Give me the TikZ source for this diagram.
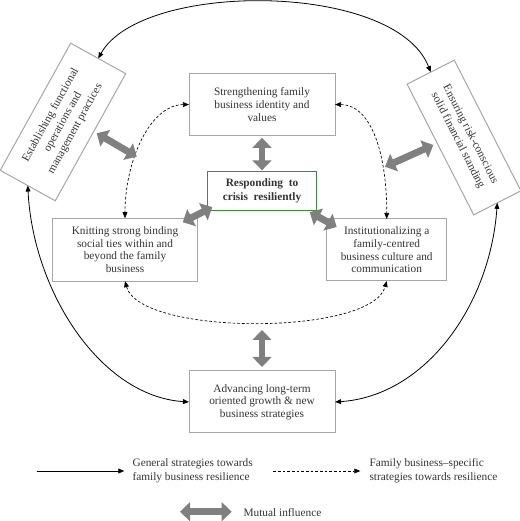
\documentclass[tikz,border=0pt]{standalone}
\usepackage{fontspec}
\setmainfont{Liberation Serif}
\usetikzlibrary{arrows.meta,calc}
\definecolor{boxgray}{HTML}{A6A6A6}
\definecolor{crisisgreen}{HTML}{3C8C3C}
\definecolor{mutualgray}{HTML}{808080}
\begin{document}
\begin{tikzpicture}[x=0.75pt,y=0.75pt,>={Triangle[length=4.5pt,width=3.6pt]},
    mutual/.style={line width=5.2pt,mutualgray,arrows={Triangle[length=7.5pt,width=14pt]-Triangle[length=7.5pt,width=14pt]}},
    legend/.style={anchor=west,inner sep=0pt,align=left,text=black!80,font=\fontsize{8.5}{10.5}\selectfont}]
            \useasboundingbox (0,0) rectangle (520,521);
            \begin{scope}[every node/.style={rectangle,draw=boxgray,line width=0.75pt,inner sep=0pt,outer sep=0pt,align=center,text=black!80,font=\fontsize{8.5}{9.5}\selectfont}]
                \node[minimum width=109.5pt,minimum height=46.9pt] (top) at (262,416.5) {Strengthening family\\business identity and\\values};
                \node[draw=crisisgreen,minimum width=82.1pt,minimum height=28.7pt,font=\fontsize{8.5}{10.5}\selectfont\bfseries] (resp) at (262,330) {Responding\ \ to\\crisis\ \ resiliently};
                \node[minimum width=109.1pt,minimum height=47.2pt] (knit) at (125,271.3) {Knitting strong binding\\social ties within and\\beyond the family\\business};
                \node[minimum width=90pt,minimum height=46.5pt] (inst) at (386.7,271) {Institutionalizing a\\family-centred\\business culture and\\communication};
                \node[minimum width=109.5pt,minimum height=46.5pt] (bot) at (262,119) {Advancing long-term\\oriented growth \& new\\business strategies};
                \node[rotate=61,minimum width=109pt,minimum height=47.2pt,font=\fontsize{8.5}{10.5}\selectfont] (lbox) at (63,399) {Establishing functional\\operations and\\management practices};
                \node[rotate=-63,minimum width=110pt,minimum height=39.7pt,font=\fontsize{8.5}{10.5}\selectfont] (rbox) at (464,383.5) {Ensuring risk-conscious\\solid financial standing};
            \end{scope}
            \draw[<->,line width=0.6pt] (lbox.east) .. controls (141,540) and (395,540) .. (rbox.west);
            \draw[<->,line width=0.6pt] (lbox.west) .. controls (33,230) and (100,125) .. (bot.west);
            \draw[<->,line width=0.6pt] (rbox.east) .. controls (490,215) and (425,125) .. (bot.east);
            \draw[<->,dash pattern=on 2pt off 1.5pt,line width=0.5pt] (top.west) .. controls (150,416) and (125,360) .. (knit.north);
            \draw[<->,dash pattern=on 2pt off 1.5pt,line width=0.5pt] (top.east) .. controls (374,416) and (387,360) .. (inst.north);
            \draw[<->,dash pattern=on 2pt off 1.5pt,line width=0.5pt] (knit.south) .. controls (140,185) and (372,185) .. (inst.south);
            \draw[mutual] ($(top.south)+(0,-2)$) -- ($(resp.north)+(0,1.5)$);
            \draw[mutual] ($(resp.south west)+(5,3)$) -- ($(knit.north east)+(-15,-4)$);
            \draw[mutual] ($(resp.south east)+(-7,-2)$) -- ($(inst.north west)+(10,-8)$);
            \draw[mutual] ($(lbox.south)+(6.2,4)$) -- ($(lbox.south)+(46.2,-19.4)$);
            \draw[mutual] ($(rbox.south)+(-55.4,-17.2)$) -- ($(rbox.south)+(-7.1,4.5)$);
            \draw[mutual] ($(bot.north)+(0,4)$) -- ($(bot.north)+(0,41)$);
            \node[legend] (gen) at (132.3,50) {General strategies towards\\family business resilience};
            \node[legend] (fam) at (369.3,50) {Family business--specific\\strategies towards resilience};
            \node[legend] (mut) at (243.3,8) {Mutual influence};
            \coordinate (g0) at (36.7,50);
            \coordinate (f0) at (273.3,50);
            \coordinate (m0) at (180,9.3);
            \draw[->,line width=0.6pt] (g0) -- ($(gen.west)+(-8,0)$);
            \draw[->,dash pattern=on 2pt off 1.5pt,line width=0.5pt] (f0) -- ($(fam.west)+(-9,0)$);
            \draw[mutual] (m0) -- ($(mut.west)+(-11.6,1.3)$);
        \end{tikzpicture}
\end{document}
